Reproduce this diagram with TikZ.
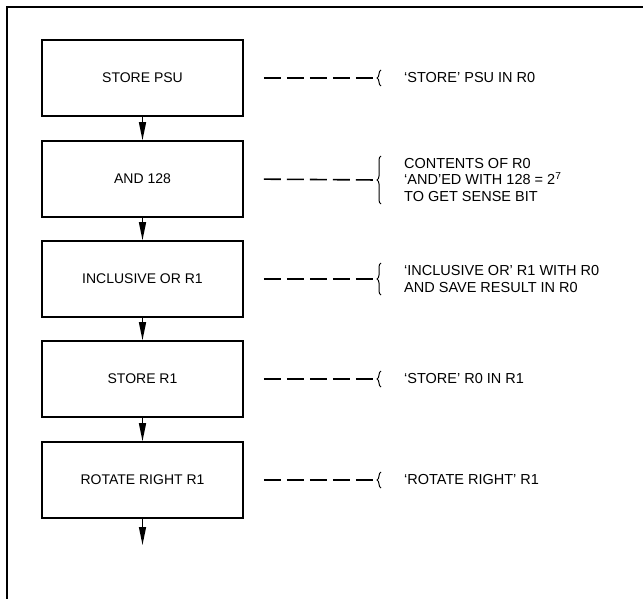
\documentclass[tikz,border=0pt]{standalone}
\usepackage{fontspec}
\setmainfont{Liberation Sans}
\usepackage{tikz}
\usetikzlibrary{arrows.meta}
\usetikzlibrary{decorations.pathreplacing}

\tikzset{
  stepbox/.style={draw,line width=1.6pt,minimum width=201pt,minimum height=76pt,inner sep=0pt,font=\fontsize{14}{15}\selectfont},
  flow/.style={line width=1.4pt,-{Triangle[width=7pt,length=18pt]}},
  remark/.style={line width=1.6pt,dash pattern=on 17pt off 6pt,shorten <=20pt},
  curly/.style={line width=1pt,decorate,decoration={brace,amplitude=4pt}},
  note/.style={anchor=west,align=left,inner sep=0pt,font=\fontsize{14.5}{16.5}\selectfont}
}

\begin{document}
\begin{tikzpicture}[x=1pt,y=-1pt]
\useasboundingbox (0,0) rectangle (643,599);
\draw[line width=1.6pt] (643,7) -- (7,7) -- (7,599);

\node (store) at (142.5,78) [stepbox] {STORE PSU};
\node (and) at (142.5,179) [stepbox] {AND 128};
\node (incl) at (142.5,279) [stepbox] {INCLUSIVE OR R1};
\node (storeone) at (142.5,379) [stepbox] {STORE R1};
\node (rotate) at (142.5,480) [stepbox] {ROTATE RIGHT R1};
\coordinate (out) at (142.5,545);

% braces, tips at x=377
\coordinate (t1) at (377,78);
\coordinate (t2) at (377,180);
\coordinate (t3) at (377,279);
\coordinate (t4) at (377,379);
\coordinate (t5) at (377,480);
\draw[curly] (381,86) -- (381,70);
\draw[curly] (381,204) -- (381,156);
\draw[curly] (381,295) -- (381,263);
\draw[curly] (381,387) -- (381,371);
\draw[curly] (381,488) -- (381,472);

\node (n1) at (404,78) [note] {‘STORE’ PSU IN R0};
\node (n2) at (404,180) [note] {CONTENTS OF R0\\‘AND’ED WITH 128 = 2\textsuperscript{7}\\TO GET SENSE BIT};
\node (n3) at (404,279) [note] {‘INCLUSIVE OR’ R1 WITH R0\\AND SAVE RESULT IN R0};
\node (n4) at (404,379) [note] {‘STORE’ R0 IN R1};
\node (n5) at (404,480) [note] {‘ROTATE RIGHT’ R1};

\path
(store) edge [flow] (and)
(and) edge [flow] (incl)
(incl) edge [flow] (storeone)
(storeone) edge [flow] (rotate)
(rotate) edge [flow] (out);

\path
(store.east) edge [remark] (t1)
(and.east) edge [remark] (t2)
(incl.east) edge [remark] (t3)
(storeone.east) edge [remark] (t4)
(rotate.east) edge [remark] (t5);
\end{tikzpicture}
\end{document}
